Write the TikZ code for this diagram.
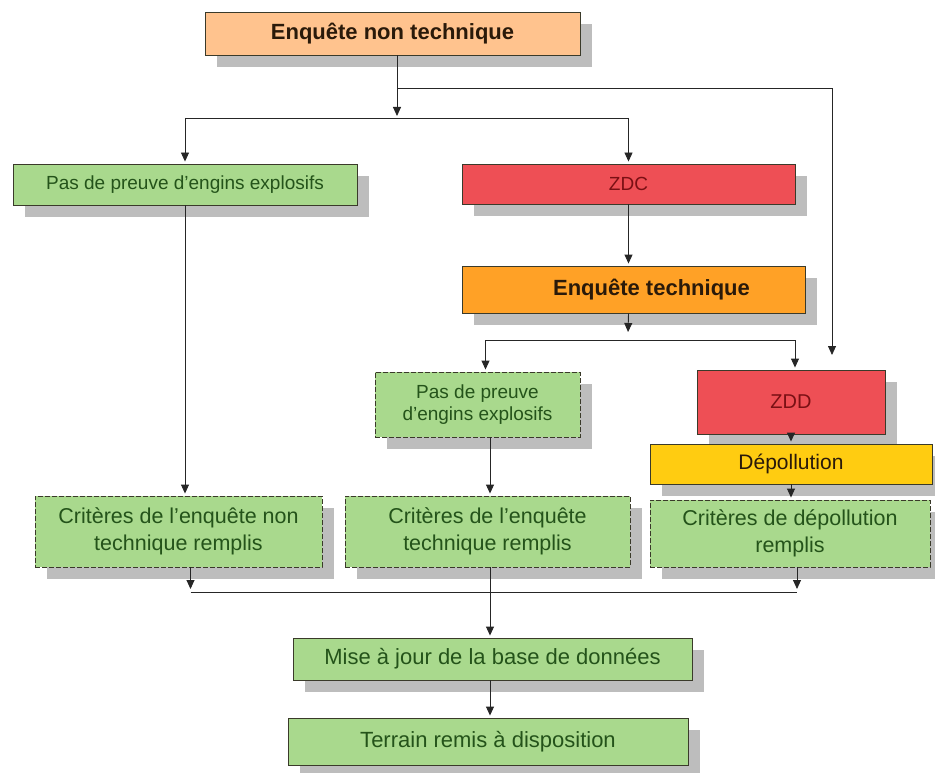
\documentclass[tikz,border=0pt]{standalone}
\usepackage{fontspec}
\setmainfont{Liberation Sans}
\usetikzlibrary{arrows.meta,shadows,calc}
\definecolor{peach}{HTML}{FFC38E}
\definecolor{orng}{HTML}{FFA126}
\definecolor{redbox}{HTML}{EE4F55}
\definecolor{greenbox}{HTML}{A9D98D}
\definecolor{yellowbox}{HTML}{FFCC11}
\definecolor{shadowgray}{HTML}{BDBDBD}
\definecolor{dkgreen}{HTML}{24531A}
\definecolor{dkred}{HTML}{7A1014}
\definecolor{dkbrown}{HTML}{2A1A0A}
\definecolor{edge}{HTML}{3A3A2A}
\tikzset{
  boxbase/.style={rectangle, draw=edge, line width=0.9pt, inner sep=2pt, align=center,
    drop shadow={shadow xshift=12pt, shadow yshift=-12pt, fill=shadowgray, opacity=1}},
  greenst/.style={boxbase, fill=greenbox, text=dkgreen, font=\fontsize{19}{22}\selectfont},
  critst/.style={greenst, dashed, dash pattern=on 5pt off 2pt, font=\fontsize{21.5}{27}\selectfont},
  redst/.style={boxbase, fill=redbox, text=dkred, font=\fontsize{19}{22}\selectfont},
  arr/.style={-{Triangle[width=8pt,length=9pt]}, draw=black!85, line width=0.9pt, shorten >=2pt},
  ln/.style={draw=black!85, line width=0.9pt}
}
\begin{document}
\begin{tikzpicture}[x=1pt,y=-1pt]
\useasboundingbox (0,0) rectangle (935,773);
% nodes
\node[boxbase, fill=peach, text=dkbrown, font=\bfseries\fontsize{22}{26}\selectfont,
  minimum width=375pt, minimum height=43pt] (nt) at (392.5,33.5) {Enquête non technique};
\node[greenst, minimum width=344pt, minimum height=41pt] (pasL) at (185,184.5) {Pas de preuve d'engins explosifs};
\node[redst, minimum width=333pt, minimum height=40pt] (zdc) at (628.5,184) {ZDC};
\node[boxbase, fill=orng, text=dkbrown, font=\bfseries\fontsize{22}{26}\selectfont,
  minimum width=343pt, minimum height=47pt] (et) at (633.5,289.5) {\hspace*{36pt}Enquête technique};
\node[greenst, dashed, dash pattern=on 5pt off 2pt, minimum width=205pt, minimum height=65pt] (pasM) at (477.5,404.5) {Pas de preuve\\d'engins explosifs};
\node[redst, minimum width=188pt, minimum height=64pt, font=\fontsize{20}{22}\selectfont] (zdd) at (791,402) {ZDD};
\node[boxbase, fill=yellowbox, text=dkbrown, font=\fontsize{21}{24}\selectfont,
  minimum width=282pt, minimum height=40pt] (dep) at (791,464) {Dépollution};
\node[critst, minimum width=287pt, minimum height=71pt] (critNT) at (178.5,531.5) {Critères de l'enquête non\\technique remplis};
\node[critst, minimum width=285pt, minimum height=71pt] (critT) at (487.5,531.5) {Critères de l'enquête\\technique remplis};
\node[critst, minimum width=280pt, minimum height=67pt] (critD) at (790,533.5) {Critères de dépollution\\remplis};
\node[greenst, font=\fontsize{22}{26}\selectfont, minimum width=399pt, minimum height=42pt] (maj) at (492.5,659) {Mise à jour de la base de données};
\node[greenst, font=\fontsize{22}{26}\selectfont, minimum width=400pt, minimum height=47pt] (terr) at (488,741.5) {Terrain remis à disposition};
% coordinates
\coordinate (j1) at (397,118);
\coordinate (r1) at (397,88);
\coordinate (r2) at (832,357);
\coordinate (j2) at (628,340);
\coordinate (j3) at (490,592);
% connectors
\draw[ln] (nt.south -| j1) -- (r1);
\draw[arr] (r1) -- (j1);
\draw[ln] (r1) -| ($(r2)+(0,-20)$);
\draw[arr] ($(r2)+(0,-20)$) -- (r2);
\draw[ln] (pasL.north |- j1) -- (zdc.north |- j1);
\draw[arr] (pasL.north |- j1) -- (pasL.north);
\draw[arr] (zdc.north |- j1) -- (zdc.north);
\draw[arr] (zdc.south) -- (zdc.south |- et.north);
\draw[arr] (zdc.south |- et.south) -- ($(j2)+(0,-6)$);
\draw[ln] ($(pasM.north |- j2)+(8,0)$) -- ($(zdd.north |- j2)+(4,0)$);
\draw[arr] ($(pasM.north |- j2)+(8,0)$) -- ($(pasM.north)+(8,0)$);
\draw[arr] ($(zdd.north |- j2)+(4,0)$) -- ($(zdd.north)+(4,0)$);
\draw[arr] (pasL.south) -- (pasL.south |- critNT.north);
\draw[arr] (pasM.south -| j3) -- (critT.north -| j3);
\draw[arr] (zdd.south) -- (dep.north);
\draw[arr] (dep.south) -- (dep.south |- critD.north);
\draw[arr] ($(critNT.south)+(12,0)$) -- ($(critNT.south |- j3)+(12,-1)$);
\draw[arr] ($(critD.south)+(7,0)$) -- ($(critD.south |- j3)+(7,-1)$);
\draw[ln] ($(critNT.south |- j3)+(12,0)$) -- ($(critD.south |- j3)+(7,0)$);
\draw[arr] (critT.south -| j3) -- (maj.north -| j3);
\draw[arr] (maj.south -| j3) -- (terr.north -| j3);
\end{tikzpicture}
\end{document}
